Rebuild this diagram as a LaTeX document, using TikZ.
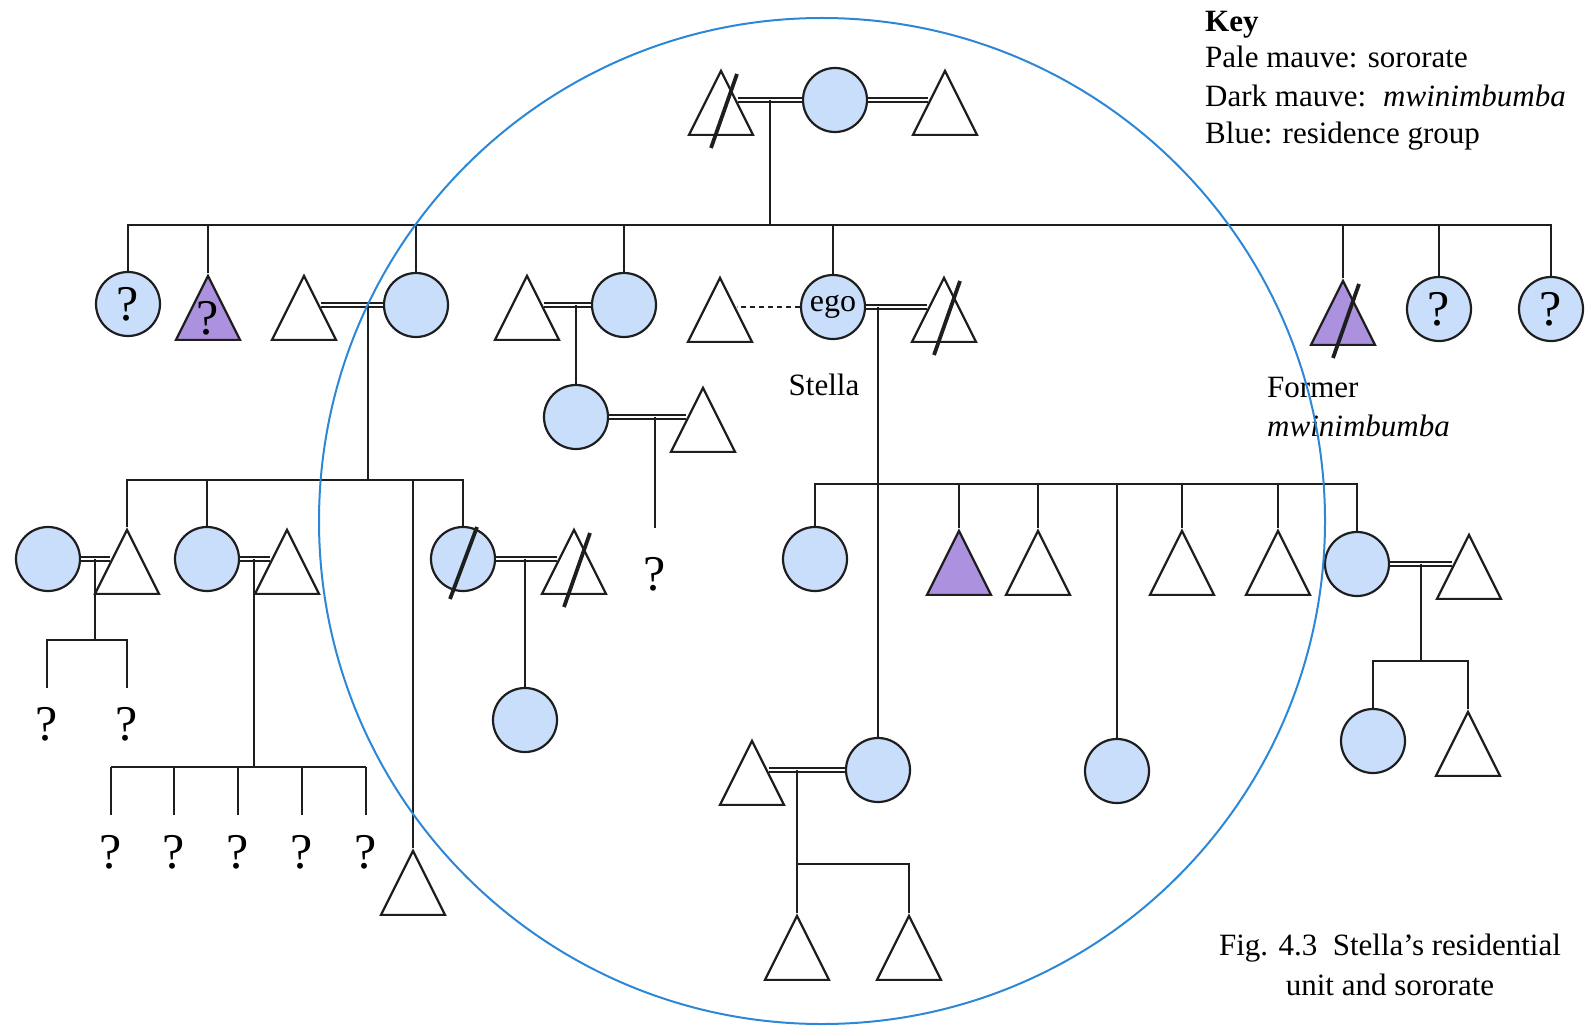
\documentclass[tikz,border=0pt]{standalone}
\usepackage{fontspec}
\setmainfont{Liberation Serif}
\usetikzlibrary{shapes.geometric,calc}
\definecolor{pblue}{RGB}{200,222,250}
\definecolor{mauve}{RGB}{172,145,222}
\definecolor{ringc}{RGB}{45,135,215}
\definecolor{ink}{RGB}{30,30,30}
\begin{document}
\begin{tikzpicture}[x=1pt,y=-1pt,
  line/.style={draw=ink,line width=2.2pt},
  fem/.style={circle,draw=ink,line width=2.2pt,fill=pblue,minimum size=64pt,inner sep=0pt,font=\fontsize{32}{32}\selectfont},
  qf/.style={font=\fontsize{50}{50}\selectfont},
  male/.style={isosceles triangle,isosceles triangle stretches=true,shape border rotate=90,minimum width=64pt,minimum height=64pt,inner sep=0pt,draw=ink,line width=2.2pt,fill=white,anchor=apex},
  marr/.style={draw=ink,double=white,double distance=2.4pt,line width=1.8pt},
  slashl/.style={draw=ink,line width=3.8pt},
  txt/.style={font=\fontsize{31}{31}\selectfont,anchor=base west,inner sep=0pt},
  qm/.style={font=\fontsize{50}{50}\selectfont,anchor=base,inner sep=0pt},
]
\useasboundingbox (0,0) rectangle (1586,1027);

% ---------- generation 0
\node[male] (t0a) at (721,68) {};
\node[fem] (c0) at (835,100) {};
\node[male] (t0b) at (945,68) {};
\draw[marr] (c0.west) -- (c0.west -| t0a.right side);
\draw[marr] (c0.east) -- (c0.east -| t0b.left side);
\coordinate (m0) at (770,100);
\coordinate (b1) at (770,225);
\draw[line] (m0) -- (b1);

% ---------- generation 1
\node[fem,qf] (c1) at (128,304) {?};
\node[male,fill=mauve] (t2) at (208,273) {};
\node[qm] (q2) at (208,334) {?};
\node[male] (t3) at (304,273) {};
\node[fem] (c4) at (416,305) {};
\draw[marr] (c4.west) -- (c4.west -| t3.right side);
\coordinate (m1) at (368,305);
\node[male] (t5) at (527,273) {};
\node[fem] (c6) at (624,305) {};
\draw[marr] (c6.west) -- (c6.west -| t5.right side);
\coordinate (m2) at (576,305);
\node[fem] (c6a) at (576,417) {};
\node[male] (t6b) at (703,385) {};
\draw[marr] (c6a.east) -- (c6a.east -| t6b.left side);
\draw[line] (m2) -- (c6a.north);
\coordinate (m3) at (655,417);
\coordinate (m3e) at (655,528);
\draw[line] (m3) -- (m3e);
\node[qm] (q3) at (655,590) {?};
\node[male] (t7) at (720,275) {};
\node[fem] (ego) at (833,307) {ego};
\node[male] (t8) at (944,275) {};
\draw[draw=ink,line width=1.6pt,dash pattern=on 5pt off 4pt] (ego.west) -- (ego.west -| t7.right side);
\draw[marr] (ego.east) -- (ego.east -| t8.left side);
\coordinate (m4) at (878,307);
\node[txt,anchor=base] (stella) at (824,395) {Stella};
\node[male,fill=mauve] (t9) at (1343,278) {};
\node[fem,qf] (c10) at (1439,309) {?};
\node[fem,qf] (c11) at (1551,309) {?};
\node[txt] (former) at (1267,397) {Former};
\node[txt] (mwin) at (1267,436) {\itshape mwinimbumba};

\draw[line] (c1.north) -- (c1.north |- b1) -- (c11.north |- b1) -- (c11.north);
\foreach \n in {t2.apex,c4.north,c6.north,ego.north,t9.apex,c10.north}
  \draw[line] (\n) -- (\n |- b1);

% ---------- generation 2 (left family)
\coordinate (b2) at (368,480);
\draw[line] (m1) -- (b2);
\node[fem] (cA) at (48,559) {};
\node[male] (tB) at (127,527) {};
\draw[marr] (cA.east) -- (cA.east -| tB.left side);
\coordinate (m5) at (95,559);
\coordinate (b5) at (95,640);
\draw[line] (m5) -- (b5);
\node[qm] (q5a) at (47,740) {?};
\node[qm] (q5b) at (127,740) {?};
\coordinate (e5a) at (47,688);
\coordinate (e5b) at (127,688);
\draw[line] (e5a) -- (e5a |- b5) -- (e5b |- b5) -- (e5b);

\node[fem] (cC) at (207,559) {};
\node[male] (tD) at (287,527) {};
\draw[marr] (cC.east) -- (cC.east -| tD.left side);
\coordinate (m6) at (254,559);
\coordinate (b6) at (254,767);
\draw[line] (m6) -- (b6);
\foreach \i/\x in {1/111,2/174,3/238,4/302,5/366}{
  \node[qm] (q6\i) at (\x,868) {?};
  \coordinate (e6\i) at (\x,815);
  \draw[line] (e6\i) -- (e6\i |- b6);
}
\draw[line] (e61 |- b6) -- (e65 |- b6);

\node[male] (tE) at (413,848) {};
\node[fem] (cF) at (463,559) {};
\node[male] (tG) at (574,527) {};
\draw[marr] (cF.east) -- (cF.east -| tG.left side);
\coordinate (m7) at (525,559);
\node[fem] (cH) at (525,720) {};
\draw[line] (m7) -- (cH.north);

\draw[line] (tB.apex) -- (tB.apex |- b2) -- (cF.north |- b2) -- (cF.north);
\foreach \n in {cC.north,tE.apex}
  \draw[line] (\n) -- (\n |- b2);

% ---------- ego's children
\coordinate (b3) at (878,484);
\node[fem] (cI) at (815,559) {};
\node[male,fill=mauve] (tJ) at (959,528) {};
\node[male] (tK) at (1038,528) {};
\node[fem] (cL) at (1117,771) {};
\node[male] (tM) at (1182,528) {};
\node[male] (tN) at (1278,528) {};
\node[fem] (cO) at (1357,564) {};
\node[male] (tP) at (1469,532) {};
\draw[marr] (cO.east) -- (cO.east -| tP.left side);
\coordinate (m8) at (1421,564);
\coordinate (b8) at (1421,661);
\draw[line] (m8) -- (b8);
\node[fem] (cQ2) at (1373,741) {};
\node[male] (tR2) at (1468,709) {};
\draw[line] (cQ2.north) -- (cQ2.north |- b8) -- (tR2.apex |- b8) -- (tR2.apex);

\draw[line] (cI.north) -- (cI.north |- b3) -- (cO.north |- b3) -- (cO.north);
\foreach \n in {tJ.apex,tK.apex,cL.north,tM.apex,tN.apex}
  \draw[line] (\n) -- (\n |- b3);

\node[fem] (cQ) at (878,770) {};
\draw[line] (m4) -- (cQ.north);
\node[male] (tR) at (752,738) {};
\draw[marr] (cQ.west) -- (cQ.west -| tR.right side);
\coordinate (m9) at (797,770);
\coordinate (b9) at (797,864);
\node[male] (tS) at (797,913) {};
\node[male] (tT) at (909,913) {};
\draw[line] (m9) -- (tS.apex);
\draw[line] (tS.apex |- b9) -- (tT.apex |- b9) -- (tT.apex);

% ---------- slashes (deceased)
\foreach \n in {t0a,t8,t9,tG}
  \draw[slashl] ($(\n.apex)+(16,6)$) -- ($(\n.apex)+(-10,80)$);
\draw[slashl] ($(cF.center)+(14,-32)$) -- ($(cF.center)+(-13,40)$);

% ---------- residence ring
\node[circle,draw=ringc,line width=2pt,minimum size=1006pt,inner sep=0pt] (ring) at (822,521) {};

% ---------- key and caption
\node[txt,font=\fontsize{31}{31}\selectfont\bfseries] (key) at (1205,32) {Key};
\node[txt] (k1) at (1205,68) {Pale mauve: sororate};
\node[txt] (k2) at (1205,107) {Dark mauve:\hspace{0.55em}\textit{mwinimbumba}};
\node[txt] (k3) at (1205,144) {Blue: residence group};
\node[txt,anchor=base] (cap1) at (1390,955) {Fig. 4.3\hspace{0.5em}Stella’s residential};
\node[txt,anchor=base] (cap2) at (1390,995) {unit and sororate};
\end{tikzpicture}
\end{document}
